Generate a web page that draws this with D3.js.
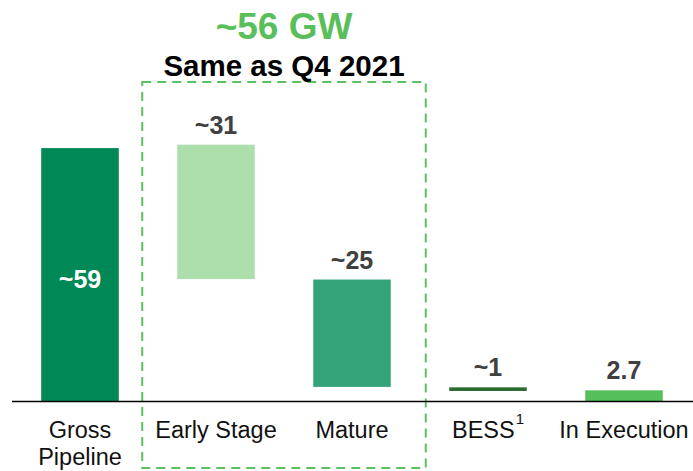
<!DOCTYPE html>
<html>
<head>
<meta charset="utf-8">
<script src="https://cdn.jsdelivr.net/npm/d3@7"></script>
<style>
  body { margin: 0; background: #fff; }
  text { font-family: 'Liberation Sans', Arial, sans-serif; }
</style>
</head>
<body>
<div id="chart"></div>
<script>
const categories = ['Gross Pipeline', 'Early Stage', 'Mature', 'BESS', 'In Execution']
const lows = [0, 28.5, 3.4, 2.45, 0]
const highs = [59, 59.8, 28.4, 3.3, 2.6]
const valueLabels = ['~59', '~31', '~25', '~1', '2.7']
const colors = ['#008856', '#addfad', '#34a37a', '#2a6b30', '#55bf5a']
const axisLines = [['Gross', 'Pipeline'], ['Early Stage'], ['Mature'], ['BESS'], ['In Execution']]

let width = 693,
  height = 471

let svg = d3.select('#chart')
  .append('svg')
  .attr('width', width)
  .attr('height', height)

let x = d3.scaleBand()
  .domain(categories)
  .range([12, 692])
  .paddingInner(0.43)
  .paddingOuter(0.215)

let y = d3.scaleLinear().domain([0, 60]).range([401.5, 143.8])

// dashed box round early stage + mature
let boxLeft = x('Early Stage') - 35
let boxRight = x('Mature') + x.bandwidth() + 35
svg.append('rect')
  .attr('x', boxLeft)
  .attr('y', 82)
  .attr('width', boxRight - boxLeft)
  .attr('height', 386)
  .attr('fill', 'none')
  .attr('stroke', '#5cc060')
  .attr('stroke-width', 2)
  .attr('stroke-dasharray', '9,6')

svg.append('text')
  .attr('x', (boxLeft + boxRight) / 2)
  .attr('y', 39)
  .attr('text-anchor', 'middle')
  .attr('font-size', 37)
  .attr('font-weight', 'bold')
  .attr('fill', '#5abf5a')
  .text('~56 GW')

svg.append('text')
  .attr('x', (boxLeft + boxRight) / 2)
  .attr('y', 76)
  .attr('text-anchor', 'middle')
  .attr('font-size', 29.5)
  .attr('font-weight', 'bold')
  .attr('fill', '#000')
  .text('Same as Q4 2021')

svg.selectAll('.bar')
  .data(categories)
  .enter()
  .append('rect')
  .attr('class', 'bar')
  .attr('x', d => x(d))
  .attr('width', x.bandwidth())
  .attr('y', (d, i) => y(highs[i]))
  .attr('height', (d, i) => y(lows[i]) - y(highs[i]))
  .attr('fill', (d, i) => colors[i])

svg.selectAll('.val')
  .data(categories)
  .enter()
  .append('text')
  .attr('class', 'val')
  .attr('x', d => x(d) + x.bandwidth() / 2)
  .attr('y', (d, i) => i === 0 ? y((lows[i] + highs[i]) / 2) + 13 : y(highs[i]) - 11)
  .attr('text-anchor', 'middle')
  .attr('font-size', 25)
  .attr('font-weight', 'bold')
  .attr('fill', (d, i) => i === 0 ? '#fff' : '#404040')
  .text((d, i) => valueLabels[i])

// baseline
svg.append('line')
  .attr('x1', 12)
  .attr('x2', width)
  .attr('y1', y(0))
  .attr('y2', y(0))
  .attr('stroke', '#000')
  .attr('stroke-width', 1.5)

let labels = svg.selectAll('.cat')
  .data(categories)
  .enter()
  .append('text')
  .attr('class', 'cat')
  .attr('x', d => x(d) + x.bandwidth() / 2)
  .attr('y', 438)
  .attr('text-anchor', 'middle')
  .attr('font-size', 23.5)
  .attr('fill', '#111')

labels.each(function (d, i) {
  let t = d3.select(this)
  axisLines[i].forEach((line, j) => {
    t.append('tspan')
      .attr('x', x(d) + x.bandwidth() / 2)
      .attr('dy', j === 0 ? 0 : 27)
      .text(line)
  })
  if (d === 'BESS') {
    t.append('tspan')
      .attr('font-size', 15)
      .attr('dy', -14)
      .attr('dx', 1)
      .text('1')
  }
})
</script>
</body>
</html>
